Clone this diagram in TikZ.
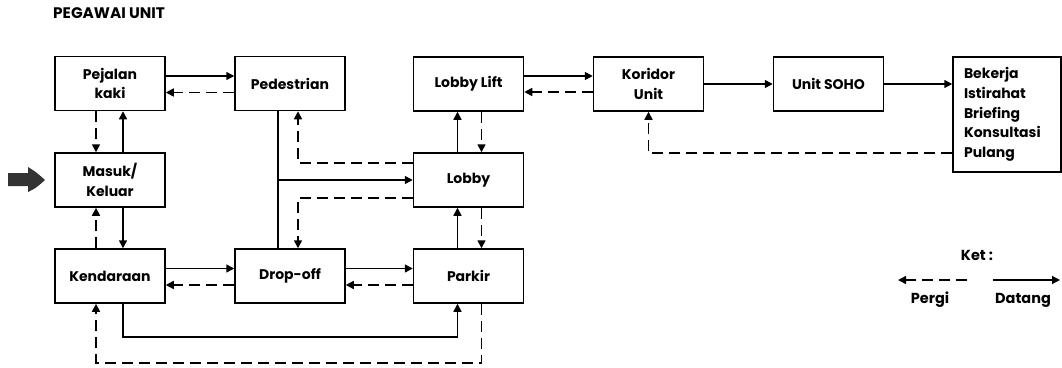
\documentclass[tikz,border=0pt]{standalone}
\usepackage{fontspec}
\setmainfont{Poppins}
\usetikzlibrary{arrows.meta,calc}
\begin{document}
\begin{tikzpicture}[x=1pt,y=-1pt,
  box/.style={draw=black,line width=1.5pt,minimum width=110pt,minimum height=54pt,inner sep=2pt,align=center,font=\fontsize{14}{19.5}\selectfont\bfseries},
  sol/.style={line width=1.5pt,-{Triangle[length=8pt,width=8pt]}},
  das/.style={line width=1.6pt,dash pattern=on 11pt off 6pt,-{Triangle[length=8pt,width=8pt]}},
  plain/.style={line width=1.5pt},
  lbl/.style={font=\fontsize{14.5}{16}\selectfont\bfseries,inner sep=0pt}
]
\useasboundingbox (0,0) rectangle (1062,367);
% title
\node[anchor=west,font=\fontsize{15.3}{17}\selectfont\bfseries,inner sep=0pt] (title) at (53,13) {PEGAWAI UNIT};
% boxes
\node[box] (pej) at (110,83.5) {Pejalan\\kaki};
\node[box] (ped) at (290,83.5) {Pedestrian};
\node[box] (mas) at (110,180) {Masuk/\\Keluar};
\node[box] (ken) at (110,276) {Kendaraan};
\node[box] (drop) at (290,276) {Drop-off};
\node[box] (park) at (468.5,276) {Parkir};
\node[box] (lobby) at (468.5,180) {Lobby};
\node[box] (lift) at (468.5,84) {Lobby Lift};
\node[box] (kor) at (648.5,84) {Koridor\\Unit};
\node[box] (soho) at (828.5,84) {Unit SOHO};
\node[box,minimum width=108pt,minimum height=115pt,align=left,text width=86pt,inner sep=0pt,font=\fontsize{14}{19.8}\selectfont\bfseries] (bek) at (1007,114.5) {Bekerja\\Istirahat\\Briefing\\Konsultasi\\Pulang};
% entry arrow
\fill[black!80] (8,173) -- (28,173) -- (28,167) .. controls (36,172) .. (45,180) .. controls (36,188) .. (28,192) -- (28,186) -- (8,186) -- cycle;
% horizontal pairs
\draw[sol] ([yshift=7.5pt]pej.east) -- ([yshift=7.5pt]ped.west);
\draw[das] ([yshift=-9pt]ped.west) -- ([yshift=-9pt]pej.east);
\draw[sol] ([yshift=7.5pt]ken.east) -- ([yshift=7.5pt]drop.west);
\draw[das] ([yshift=-9pt]drop.west) -- ([yshift=-9pt]ken.east);
\draw[sol] ([yshift=7.5pt]drop.east) -- ([yshift=7.5pt]park.west);
\draw[das] ([yshift=-9pt]park.west) -- ([yshift=-9pt]drop.east);
\draw[sol] ([yshift=8pt]lift.east) -- ([yshift=8pt]kor.west);
\draw[das] ([yshift=-8pt]kor.west) -- ([yshift=-8pt]lift.east);
\draw[sol] (kor.east) -- (soho.west);
\draw[sol] (soho.east) -- (soho.east -| bek.west);
\draw[das] ([yshift=-38.5pt]bek.west) -| (kor.south);
% vertical pairs left column
\draw[das] ([xshift=-14pt]pej.south) -- ([xshift=-14pt]mas.north);
\draw[sol] ([xshift=13pt]mas.north) -- ([xshift=13pt]pej.south);
\draw[das] ([xshift=-14pt]ken.north) -- ([xshift=-14pt]mas.south);
\draw[sol] ([xshift=13pt]mas.south) -- ([xshift=13pt]ken.north);
% lobby column
\draw[sol] ([xshift=-11pt]lobby.north) -- ([xshift=-11pt]lift.south);
\draw[das] ([xshift=13pt]lift.south) -- ([xshift=13pt]lobby.north);
\draw[sol] ([xshift=-11pt]park.north) -- ([xshift=-11pt]lobby.south);
\draw[das] ([xshift=13pt]lobby.south) -- ([xshift=13pt]park.north);
% pedestrian / drop-off trunk
\draw[plain] ([xshift=-12pt]ped.south) -- ([xshift=-12pt]drop.north);
\coordinate (br) at ([xshift=-12pt]ped.south |- lobby.west);
\draw[sol] (br) -- (lobby.west);
\draw[das] ([yshift=17pt]lobby.west) -| ([xshift=8pt]ped.south);
\draw[das] ([yshift=-18pt]lobby.west) -| ([xshift=8pt]drop.north);
% bottom loops
\coordinate (lp1) at ($([xshift=13pt]ken.south)+(0,33)$);
\draw[sol] ([xshift=13pt]ken.south) -- (lp1) -| ([xshift=-11pt]park.south);
\coordinate (lp2) at ($([xshift=13pt]park.south)+(0,59)$);
\draw[das] ([xshift=13pt]park.south) -- (lp2) -| ([xshift=-14pt]ken.south);
% legend
\node[lbl] (ket) at (977,255) {Ket :};
\node[lbl] (pergi) at (930,300) {Pergi};
\node[lbl] (datang) at (1023,300) {Datang};
\coordinate (la) at (967,280);
\coordinate (lb) at (898,280);
\coordinate (lc) at (993,280);
\coordinate (ld) at (1060,280);
\draw[das] (la) -- (lb);
\draw[sol] (lc) -- (ld);
\end{tikzpicture}
\end{document}
